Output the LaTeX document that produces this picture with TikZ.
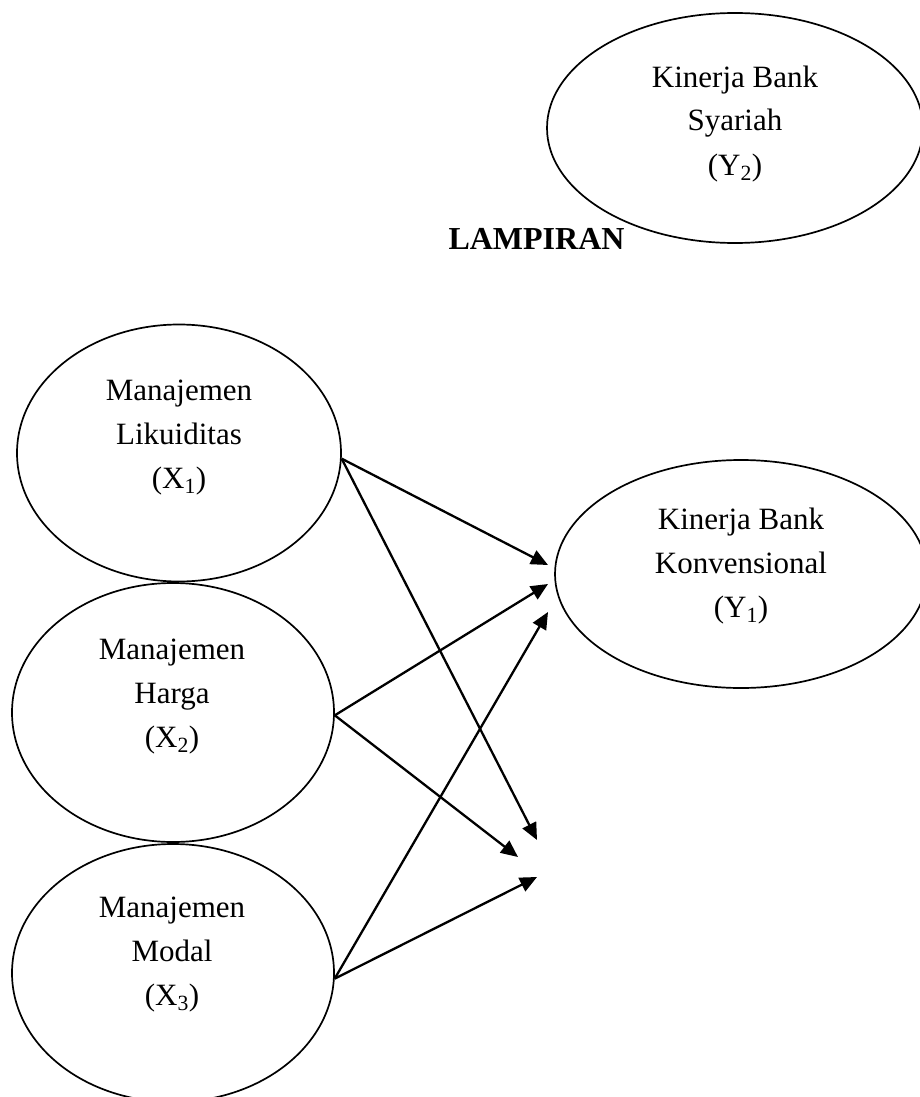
\documentclass[tikz,border=0pt]{standalone}
\usepackage{fontspec}
\setmainfont{Liberation Serif}
\usetikzlibrary{shapes.geometric,arrows.meta}
\tikzset{
  oval/.style={ellipse, draw, line width=1.7pt, inner sep=0pt},
  lbl/.style={align=center, font=\fontsize{31}{44}\selectfont, inner sep=0pt, anchor=base},
  conn/.style={line width=2.3pt, -{Triangle[length=17pt,width=15pt]}}
}
\begin{document}
\begin{tikzpicture}[x=1pt,y=-1pt]
\useasboundingbox (0,0) rectangle (920,1097);
% ellipses
\node[oval, minimum width=376pt, minimum height=230pt] (Y2) at (735,128) {};
\node[oval, minimum width=372pt, minimum height=228pt] (Y1) at (741,574) {};
\node[oval, minimum width=324pt, minimum height=257pt] (X1) at (179,453) {};
\node[oval, minimum width=322pt, minimum height=259pt] (X2) at (173,712.5) {};
\node[oval, minimum width=322pt, minimum height=258pt] (X3) at (173,973) {};
% texts (anchor base = last line baseline)
\node[lbl] (Y2t) at (735,175) {Kinerja Bank\\Syariah\\(Y\textsubscript{2})};
\node[lbl] (Y1t) at (741,617) {Kinerja Bank\\Konvensional\\(Y\textsubscript{1})};
\node[lbl] (X1t) at (179,488) {Manajemen\\Likuiditas\\(X\textsubscript{1})};
\node[lbl] (X2t) at (172,747) {Manajemen\\Harga\\(X\textsubscript{2})};
\node[lbl] (X3t) at (172,1005) {Manajemen\\Modal\\(X\textsubscript{3})};
\node[anchor=base, inner sep=0pt, font=\fontsize{32}{38}\selectfont\bfseries] (lamp) at (536.5,249) {LAMPIRAN};
% arrow tips
\coordinate (t1) at (548,565);
\coordinate (t2) at (548,584);
\coordinate (t3) at (548,612);
\coordinate (b1) at (537,840);
\coordinate (b2) at (518,857);
\coordinate (b3) at (537,877);
% connectors
\draw[conn] (X1.-2) -- (t1);
\draw[conn] (X1.-2) -- (b1);
\draw[conn] (X2.-1.5) -- (t2);
\draw[conn] (X2.-1.5) -- (b2);
\draw[conn] (X3.-2.5) -- (t3);
\draw[conn] (X3.-2.5) -- (b3);
\end{tikzpicture}
\end{document}
